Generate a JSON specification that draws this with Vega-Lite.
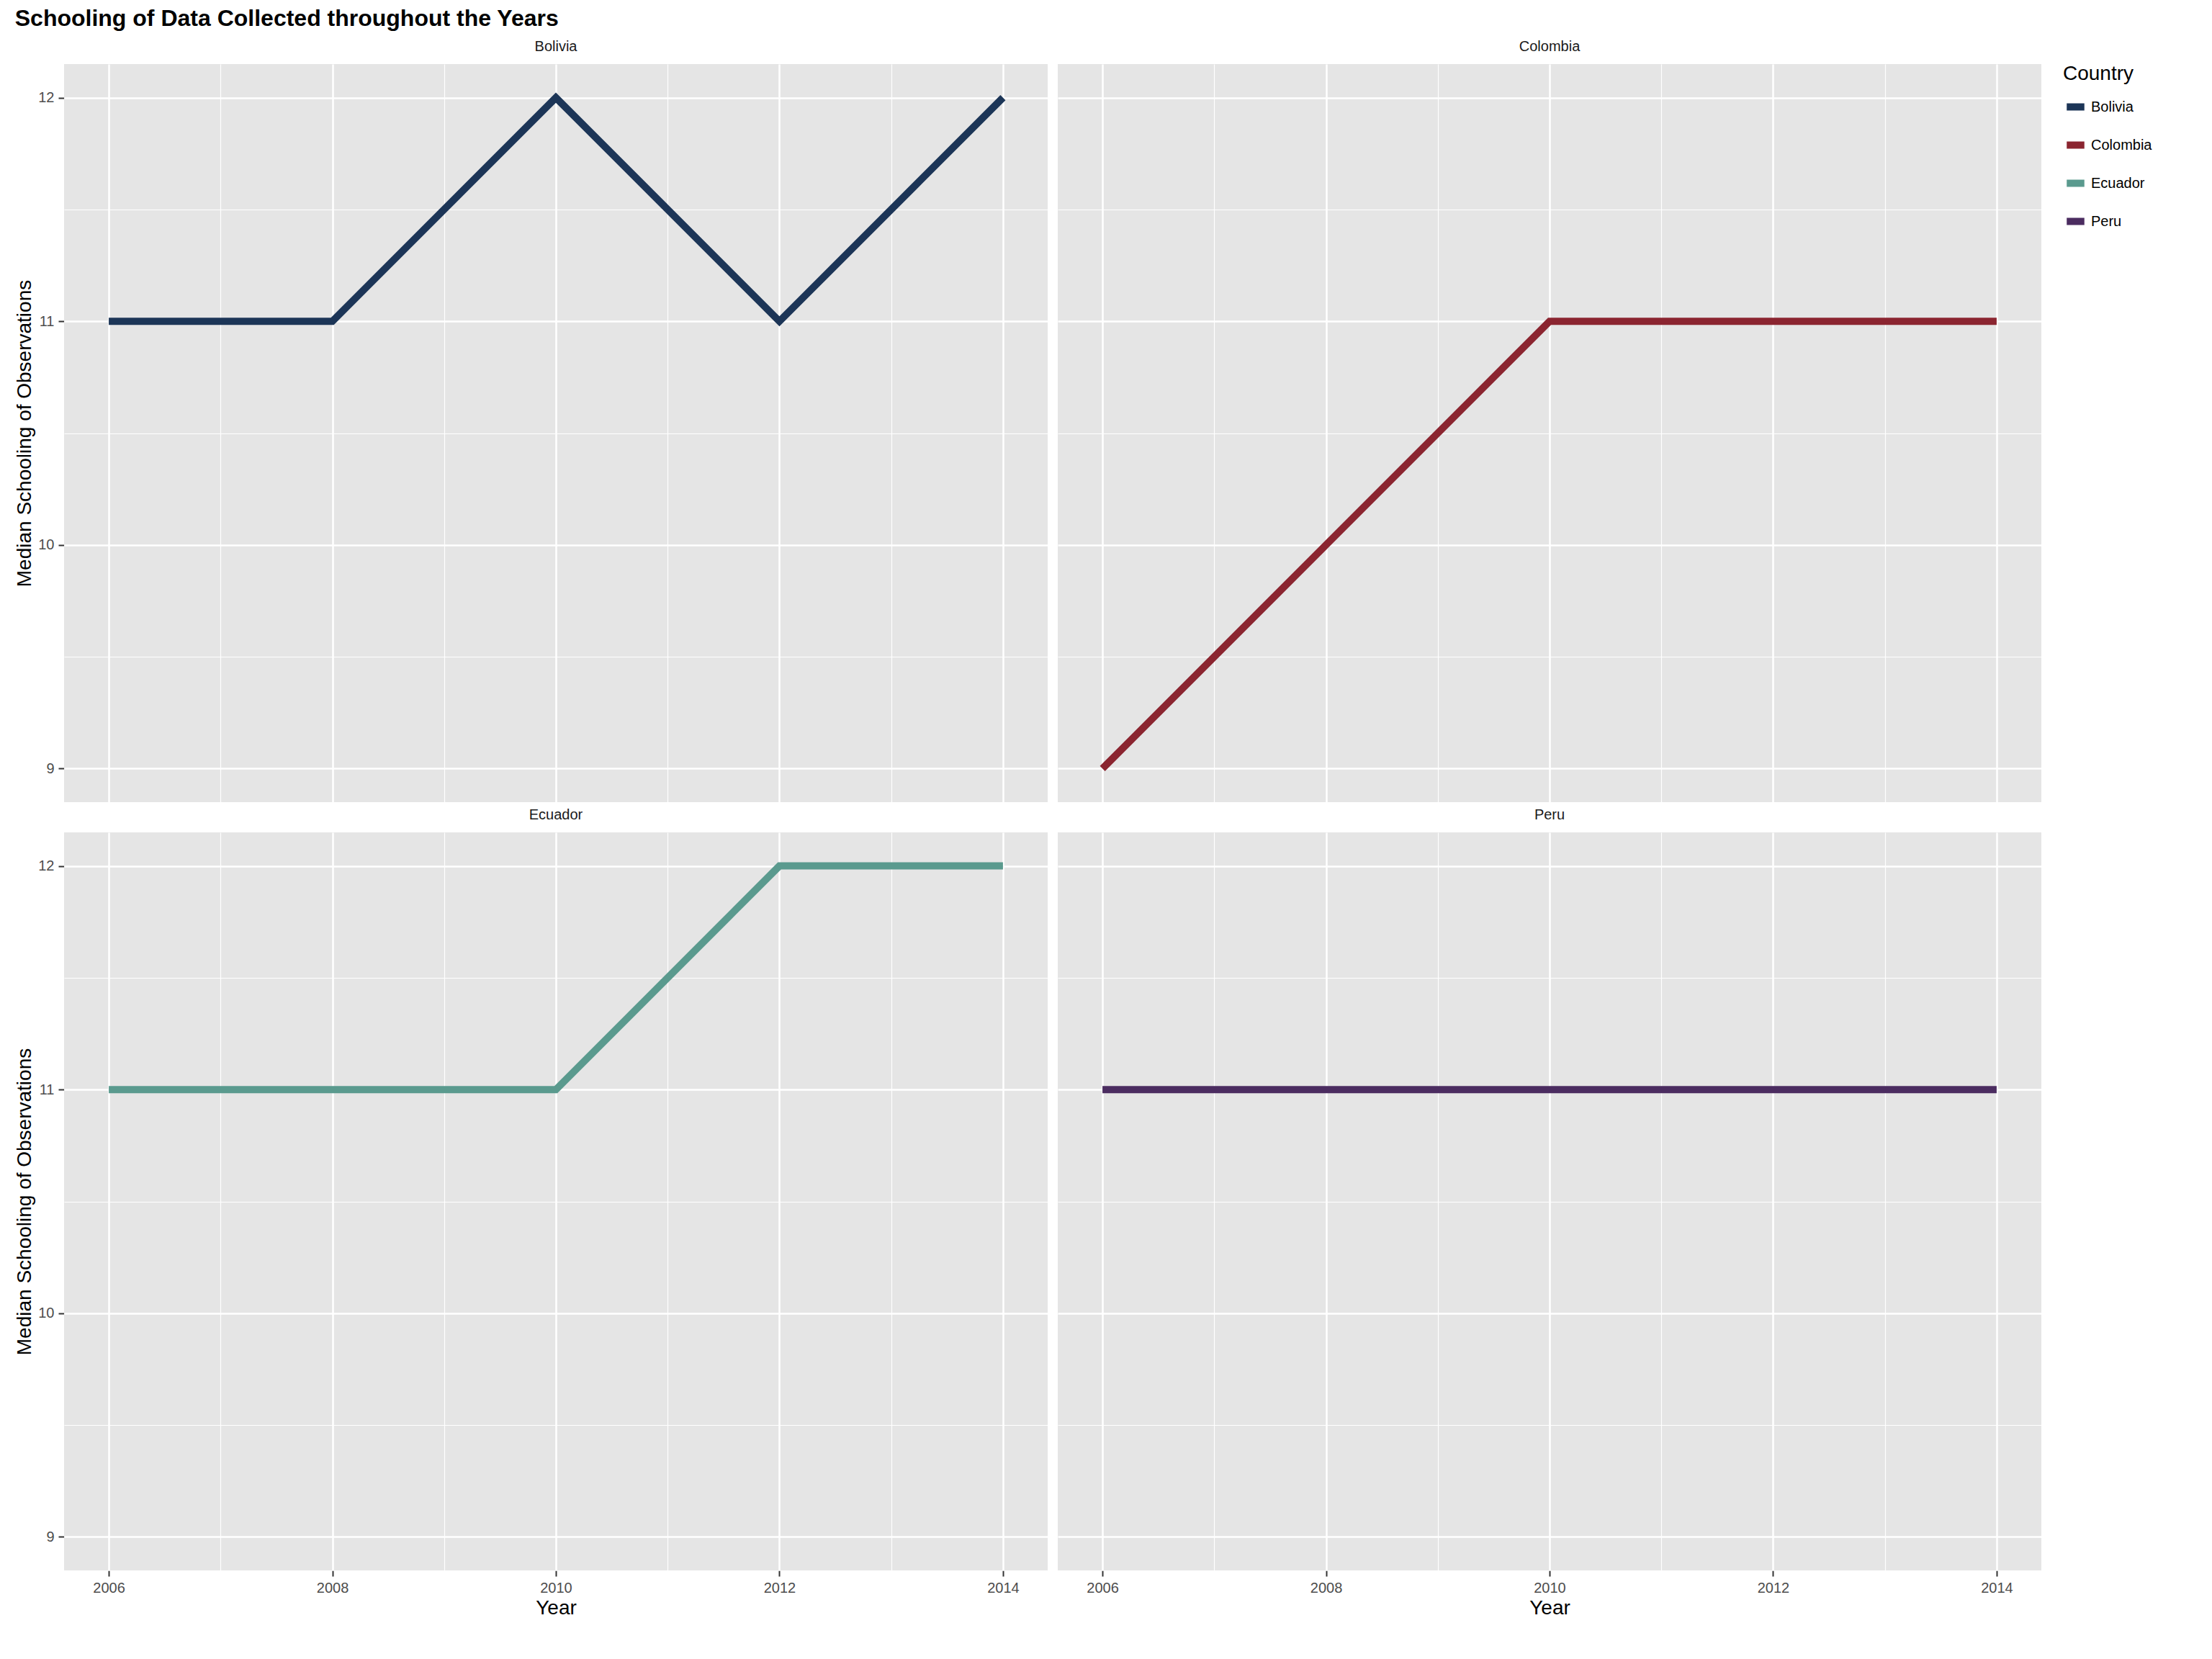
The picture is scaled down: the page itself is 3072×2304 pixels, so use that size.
{
  "$schema": "https://vega.github.io/schema/vega-lite/v6.json",
  "background": "white",
  "padding": {"left": 20, "top": 10, "right": 20, "bottom": 10},
  "title": {"text": "Schooling of Data Collected throughout the Years", "anchor": "start", "fontSize": 32, "fontWeight": "bold", "font": "Liberation Sans", "color": "black", "offset": 12},
  "data": {"values": [
    {"Year": 2006, "Schooling": 11, "Country": "Bolivia"},
    {"Year": 2008, "Schooling": 11, "Country": "Bolivia"},
    {"Year": 2010, "Schooling": 12, "Country": "Bolivia"},
    {"Year": 2012, "Schooling": 11, "Country": "Bolivia"},
    {"Year": 2014, "Schooling": 12, "Country": "Bolivia"},
    {"Year": 2006, "Schooling": 9, "Country": "Colombia"},
    {"Year": 2008, "Schooling": 10, "Country": "Colombia"},
    {"Year": 2010, "Schooling": 11, "Country": "Colombia"},
    {"Year": 2012, "Schooling": 11, "Country": "Colombia"},
    {"Year": 2014, "Schooling": 11, "Country": "Colombia"},
    {"Year": 2006, "Schooling": 11, "Country": "Ecuador"},
    {"Year": 2008, "Schooling": 11, "Country": "Ecuador"},
    {"Year": 2010, "Schooling": 11, "Country": "Ecuador"},
    {"Year": 2012, "Schooling": 12, "Country": "Ecuador"},
    {"Year": 2014, "Schooling": 12, "Country": "Ecuador"},
    {"Year": 2006, "Schooling": 11, "Country": "Peru"},
    {"Year": 2008, "Schooling": 11, "Country": "Peru"},
    {"Year": 2010, "Schooling": 11, "Country": "Peru"},
    {"Year": 2012, "Schooling": 11, "Country": "Peru"},
    {"Year": 2014, "Schooling": 11, "Country": "Peru"}
  ]},
  "facet": {"field": "Country", "type": "nominal", "title": null,
    "header": {"labelFontSize": 20, "labelFont": "Liberation Sans", "labelColor": "#1a1a1a", "labelPadding": 14}},
  "columns": 2,
  "spacing": {"column": 14, "row": 8},
  "spec": {
    "width": 1366,
    "height": 1025,
    "mark": {"type": "line", "strokeWidth": 10, "strokeCap": "butt"},
    "encoding": {
      "x": {"field": "Year", "type": "quantitative", "title": "Year",
        "scale": {"domain": [2005.6, 2014.4], "nice": false, "zero": false},
        "axis": {"values": [2006, 2007, 2008, 2009, 2010, 2011, 2012, 2013, 2014],
          "labelExpr": "datum.value % 2 == 0 ? datum.label : ''",
          "format": "d",
          "gridWidth": {"expr": "datum.value % 2 == 0 ? 2.5 : 1.2"},
          "tickOpacity": {"expr": "datum.value % 2 == 0 ? 1 : 0"}}},
      "y": {"field": "Schooling", "type": "quantitative", "title": "Median Schooling of Observations",
        "scale": {"domain": [8.85, 12.15], "nice": false, "zero": false},
        "axis": {"values": [9, 9.5, 10, 10.5, 11, 11.5, 12],
          "labelExpr": "datum.value % 1 == 0 ? format(datum.value, 'd') : ''",
          "gridWidth": {"expr": "datum.value % 1 == 0 ? 2.5 : 1.2"},
          "tickOpacity": {"expr": "datum.value % 1 == 0 ? 1 : 0"}}},
      "color": {"field": "Country", "type": "nominal",
        "scale": {"domain": ["Bolivia", "Colombia", "Ecuador", "Peru"], "range": ["#1c3557", "#8b2530", "#5a9a8e", "#4b2c60"]},
        "legend": {"title": "Country", "titleFontSize": 28, "titleFontWeight": "normal", "labelFontSize": 20, "symbolType": "stroke", "symbolStrokeWidth": 10, "symbolSize": 600, "rowPadding": 12, "titlePadding": 14}}
    }
  },
  "config": {
    "font": "Liberation Sans",
    "view": {"fill": "#e5e5e5", "stroke": null},
    "axis": {"gridColor": "white", "domain": false, "tickColor": "#333333", "tickSize": 8, "tickWidth": 2, "labelFontSize": 20, "labelColor": "#4d4d4d", "titleFontSize": 28, "titleFontWeight": "normal", "titleColor": "black", "labelPadding": 6},
    "legend": {"orient": "right", "offset": 30, "padding": 0}
  }
}
